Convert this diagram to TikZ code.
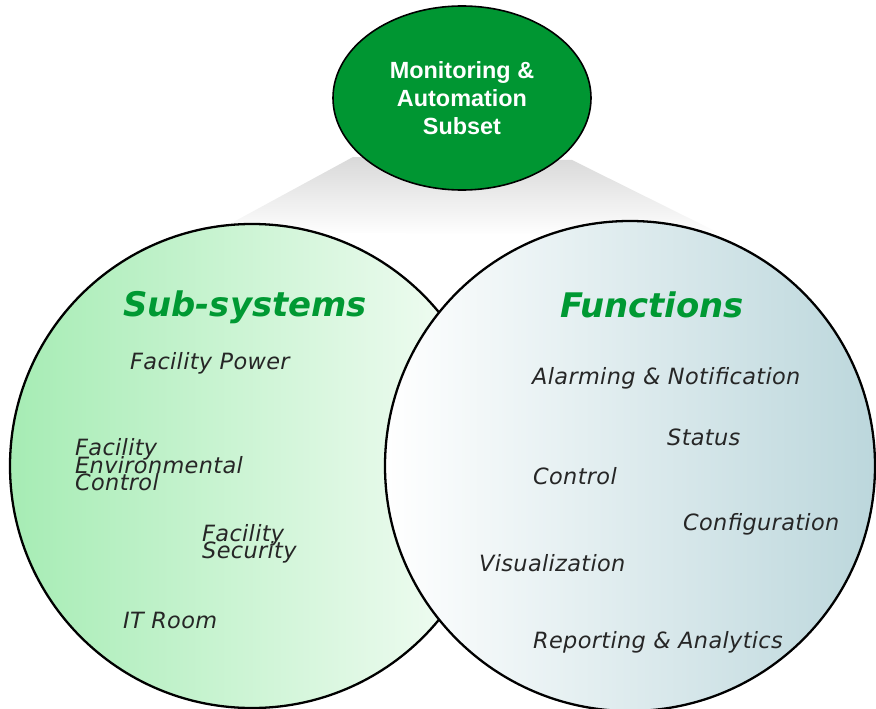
\documentclass[tikz,border=0pt]{standalone}
\usepackage{fontspec}
\setmainfont{Liberation Sans}
\newfontfamily\itemfont[LetterSpace=1.5]{DejaVu Sans}
\newfontfamily\headfont{DejaVu Sans}
\usetikzlibrary{shapes.geometric}
\definecolor{subsetgreen}{RGB}{0,150,50}
\definecolor{headgreen}{RGB}{0,153,51}
\definecolor{subsysgreen}{RGB}{166,236,180}
\definecolor{subsyspale}{RGB}{246,253,247}
\definecolor{funcblue}{RGB}{188,215,220}
\newcommand\tightlines{\setlength{\lineskiplimit}{-30pt}}
\begin{document}
\begin{tikzpicture}[x=1bp, y=-1bp,
    item/.style={anchor=west, inner sep=0pt, align=left, text=black!85, font=\itemfont\itshape\fontsize{22.5}{17.5}\selectfont\tightlines},
    heading/.style={inner sep=0pt, text=headgreen, font=\headfont\bfseries\itshape\fontsize{34}{40}\selectfont}]
    \useasboundingbox (0,0) rectangle (876,709);

    % shadow under the subset
    \shade [top color=gray!30, bottom color=white] (353,157) -- (572,160) -- (725,236) -- (215,232) -- cycle;

    \node (subsystems) [draw, circle, line width=2.3pt, minimum size=484bp, left color=subsysgreen, right color=subsyspale] at (252,466) {};
    \node (functions) [draw, circle, line width=2.3pt, minimum size=490bp, left color=white, right color=funcblue] at (630,466) {};

    \node (subset) [draw, ellipse, line width=1.6pt, fill=subsetgreen, minimum width=258bp, minimum height=184bp, text=white, align=center, font=\bfseries\fontsize{23.5}{28}\selectfont] at (462,98) {Monitoring \&\\Automation\\Subset};

    \node (subhead) [heading] at (245,307) {Sub-systems};
    \node (funchead) [heading] at (652,305) {Functions};

    \node (power) [item] at (130,363) {Facility Power};
    \node (environ) [item] at (75,465) {Facility\\Environmental\\Control};
    \node (security) [item] at (202,544) {Facility\\Security};
    \node (itroom) [item] at (123,620) {IT Room};

    \node (alarming) [item] at (532,378) {Alarming \& Notification};
    \node (status) [item] at (667,437) {Status};
    \node (control) [item] at (533,476) {Control};
    \node (config) [item] at (683,524) {Configuration};
    \node (visual) [item] at (479,563) {Visualization};
    \node (reporting) [item] at (533,642) {Reporting \& Analytics};
\end{tikzpicture}
\end{document}
